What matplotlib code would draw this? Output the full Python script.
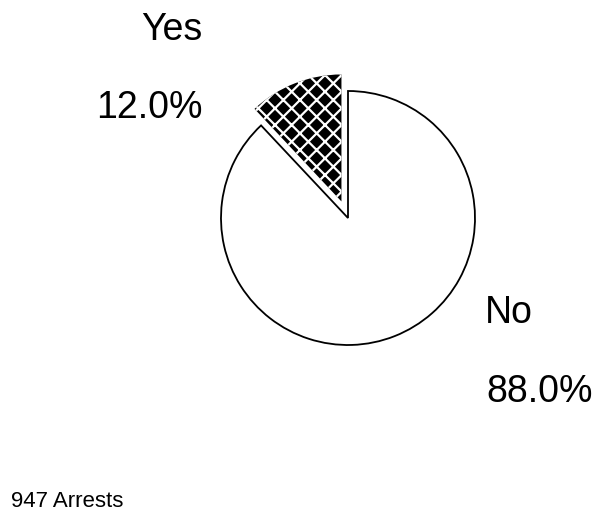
import matplotlib
matplotlib.use("Agg")
import matplotlib.pyplot as plt

plt.rcParams['font.family'] = ['Liberation Sans', 'DejaVu Sans']
plt.rcParams['hatch.linewidth'] = 1.6

categories = ["Yes", "No"]
values = [12.0, 88.0]
total_label = "947 Arrests"

W, H = 598, 513
fig = plt.figure(figsize=(W / 100, H / 100), dpi=100)
ax = fig.add_axes([0, 0, 1, 1])

R = 127.0
cx, cy = 348.0, 218.0

wedges, _ = ax.pie(values, startangle=90, counterclock=True,
                   explode=[0.14, 0.0], radius=1.0,
                   colors=["black", "white"],
                   wedgeprops=dict(edgecolor="black", linewidth=1.3))
wedges[0].set_edgecolor("white")
wedges[0].set_hatch("xx")
wedges[0].set_linewidth(0)

ax.set_xlim(-cx / R, (W - cx) / R)
ax.set_ylim(-(H - cy) / R, cy / R)
ax.set_aspect('equal')
ax.axis('off')

def px(x, y):
    return x / W, 1 - y / H

fs = 27
pct = [f"{v:.1f}%" for v in values]
fig.text(*px(172, 40), categories[0], ha='center', va='baseline', fontsize=fs)
fig.text(*px(149.5, 118), pct[0], ha='center', va='baseline', fontsize=fs)
fig.text(*px(485, 323), categories[1], ha='left', va='baseline', fontsize=fs)
fig.text(*px(486, 402), pct[1], ha='left', va='baseline', fontsize=fs)
fig.text(*px(11, 507), total_label, ha='left', va='baseline', fontsize=16)

fig.savefig("out.png", dpi=100, facecolor="white")
